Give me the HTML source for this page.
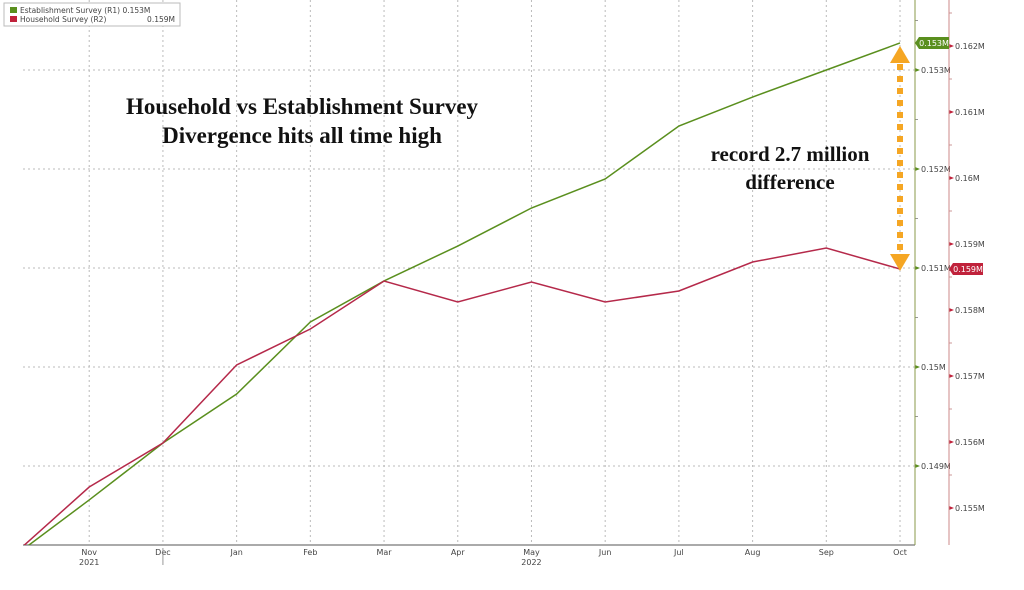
<!DOCTYPE html>
<html><head><meta charset="utf-8"><style>
body{margin:0;background:#fff;width:1024px;height:585px;overflow:hidden}
svg{font-family:"DejaVu Sans","Liberation Sans",sans-serif}
</style></head><body>
<svg id="c" width="1024" height="585" viewBox="0 0 1024 585">
<defs><clipPath id="clip"><rect x="23" y="0" width="892" height="545"/></clipPath></defs>
<g id="grid"></g>
<g id="axes"></g>
<g id="lines" clip-path="url(#clip)"></g>
<g>
<rect x="4" y="3" width="176" height="23" fill="#fff" stroke="#bbb"/>
<rect x="10" y="7" width="7" height="6" fill="#5a8f1e"/>
<text x="20" y="13" font-size="7.5" fill="#444">Establishment Survey (R1) 0.153M</text>
<rect x="10" y="16" width="7" height="6" fill="#c0223b"/>
<text x="20" y="22" font-size="7.5" fill="#444">Household Survey (R2)</text>
<text x="175" y="22" font-size="7.5" fill="#444" text-anchor="end">0.159M</text>
</g>
<g font-family="'Liberation Serif',serif" font-weight="bold" fill="#111" text-anchor="middle">
<text x="302" y="114" font-size="23">Household vs Establishment Survey</text>
<text x="302" y="143" font-size="23">Divergence hits all time high</text>
<text x="790" y="161" font-size="21">record 2.7 million</text>
<text x="790" y="189" font-size="21">difference</text>
</g>
<g>
<line x1="900" y1="64" x2="900" y2="254" stroke="#f5a623" stroke-width="6" stroke-dasharray="6,6"/>
<polygon points="900,46 890,63 910,63" fill="#f5a623"/>
<polygon points="900,271 890,254 910,254" fill="#f5a623"/>
</g>
</svg>
<script>
const months=["Oct","Nov","Dec","Jan","Feb","Mar","Apr","May","Jun","Jul","Aug","Sep","Oct"];
const establishment=[148.10,148.657,149.232,149.727,150.455,150.869,151.222,151.606,151.899,152.434,152.727,153.0,153.273];
const household=[154.318,155.318,155.985,157.167,157.712,158.439,158.121,158.424,158.121,158.288,158.727,158.939,158.621];
const r1Ticks=[149,150,151,152,153];
const r1Labels=["0.149M","0.15M","0.151M","0.152M","0.153M"];
const r2Ticks=[155,156,157,158,159,160,161,162];
const r2Labels=["0.155M","0.156M","0.157M","0.158M","0.159M","0.16M","0.161M","0.162M"];
const lastLabels=["0.153M","0.159M"];
const NS="http://www.w3.org/2000/svg";
const x=i=>15.5+(i)*73.71;
const y1=v=>466-(v-149)*99;
const y2=v=>508-(v-155)*66;
function mk(p,t,a){const e=document.createElementNS(NS,t);for(const k in a)e.setAttribute(k,a[k]);p.appendChild(e);return e;}
const grid=document.getElementById('grid'),axes=document.getElementById('axes'),lines=document.getElementById('lines');
for(let i=1;i<months.length;i++){
 const g=mk(grid,'line',{x1:x(i),x2:x(i),y1:0,y2:545,stroke:'#bbb','stroke-dasharray':'2,3'});
 
 
 const t=mk(axes,'text',{x:x(i),y:555,'font-size':8,fill:'#444','text-anchor':'middle'});
 t.textContent=months[i];
 
 
}
[[1,"2021"],[7,"2022"]].forEach(([i,s])=>{const t=mk(axes,'text',{x:x(i),y:565,'font-size':8,fill:'#444','text-anchor':'middle'});t.textContent=s;
 
 });
mk(axes,'line',{x1:x(2),x2:x(2),y1:548,y2:565,stroke:'#999'});
r1Ticks.forEach((v,k)=>{
 const g=mk(grid,'line',{x1:23,x2:915,y1:y1(v),y2:y1(v),stroke:'#bbb','stroke-dasharray':'2,3'});
 
 
 mk(axes,'polygon',{points:`915,${y1(v)-2} 920,${y1(v)} 915,${y1(v)+2}`,fill:'#5a8f1e'});
 const t=mk(axes,'text',{x:921,y:y1(v)+3,'font-size':8,fill:'#444'});t.textContent=r1Labels[k];
 
 
 mk(axes,'line',{x1:915,x2:918,y1:y1(v+0.5),y2:y1(v+0.5),stroke:'#999'});
});
r2Ticks.forEach((v,k)=>{
 mk(axes,'polygon',{points:`949,${y2(v)-2} 954,${y2(v)} 949,${y2(v)+2}`,fill:'#c0223b'});
 const t=mk(axes,'text',{x:955,y:y2(v)+3,'font-size':8,fill:'#444'});t.textContent=r2Labels[k];
 
 
 mk(axes,'line',{x1:949,x2:952,y1:y2(v+0.5),y2:y2(v+0.5),stroke:'#c99'});
});
mk(axes,'line',{x1:23,x2:915,y1:545,y2:545,stroke:'#777','stroke-width':1.2});
mk(axes,'line',{x1:915,x2:915,y1:0,y2:545,stroke:'#8a9a4a'});
mk(axes,'line',{x1:949,x2:949,y1:0,y2:545,stroke:'#c88'});
const pe=mk(lines,'polyline',{points:establishment.map((v,i)=>x(i)+','+y1(v)).join(' '),fill:'none',stroke:'#5a8f1e','stroke-width':1.5});


const ph=mk(lines,'polyline',{points:household.map((v,i)=>x(i)+','+y2(v)).join(' '),fill:'none',stroke:'#b5294a','stroke-width':1.5});


const n=months.length-1;
[[y1(establishment[n]),'#5a8f1e',lastLabels[0],915],[y2(household[n]),'#c0223b',lastLabels[1],949]].forEach(([yy,c,s,ax],k)=>{
 mk(axes,'polygon',{points:`${ax},${yy} ${ax+4},${yy-6} ${ax+34},${yy-6} ${ax+34},${yy+6} ${ax+4},${yy+6}`,fill:c});
 const t=mk(axes,'text',{x:ax+19,y:yy+3,'font-size':8,fill:'#fff','text-anchor':'middle'});t.textContent=s;
 
 
});
</script>
</body></html>
